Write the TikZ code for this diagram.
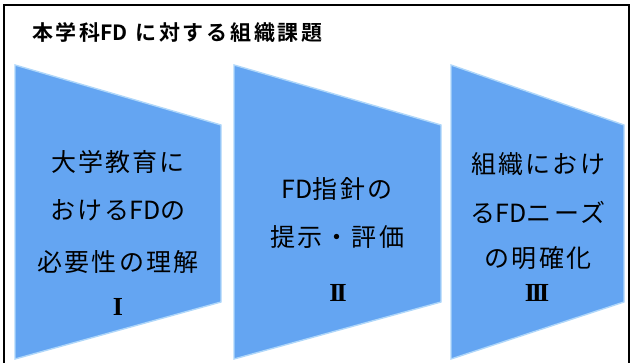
\documentclass[tikz,border=0pt]{standalone}
\usepackage{fontspec}
\newfontfamily\jp{Noto Sans CJK JP}[BoldFont={Noto Sans CJK JP Bold}]
\newfontfamily\rom{Liberation Serif}
\newcommand{\tightFD}{{\addfontfeature{LetterSpace=0}FD}}
\definecolor{boxfill}{RGB}{100,165,242}
\definecolor{boxedge}{RGB}{175,215,250}
\tikzset{
  chev/.style={fill=boxfill, draw=boxedge, line width=1.4pt, line join=miter},
  txt/.style={inner sep=0pt, font=\jp\fontsize{25}{25}\selectfont\addfontfeature{LetterSpace=9}, text=black},
  num/.style={inner sep=0pt, font=\rom\bfseries\fontsize{26}{26}\selectfont, text=black},
  ttl/.style={inner sep=0pt, anchor=west, font=\jp\bfseries\fontsize{21}{21}\selectfont\addfontfeature{LetterSpace=13}}
}
\begin{document}
\begin{tikzpicture}[x=1pt,y=-1pt]
\useasboundingbox (0,0) rectangle (633,363);
\begin{scope}
\clip (0,0) rectangle (633,363);
\draw[line width=2pt] (4,5) rectangle (629,380);
\end{scope}
\node[ttl] (title) at (32,33) {本学科\tightFD\ に対する組織課題};
% shapes
\draw[chev] (15,65) -- (221,125) -- (221,302) -- (15,359) -- cycle;
\draw[chev] (234,65) -- (441,125) -- (441,302) -- (234,359) -- cycle;
\draw[chev] (451,65) -- (624,125) -- (624,302) -- (451,359) -- cycle;
% texts
\node[txt] (a1) at (118,162) {大学教育に};
\node[txt] (a2) at (118,210) {おける\tightFD の};
\node[txt] (a3) at (118,262) {必要性の理解};
\node[num] (a4) at (118,307) {I};
\node[txt] (b1) at (337,189) {\tightFD 指針の};
\node[txt] (b2) at (337,237) {提示・評価};
\node[num] (b3) at (338,293) {I\kern-3ptI};
\node[txt] (c1) at (538,164) {組織におけ};
\node[txt] (c2) at (538,212) {る\tightFD ニーズ};
\node[txt] (c3) at (538,258) {の明確化};
\node[num] (c4) at (537,293) {I\kern-3ptI\kern-3ptI};
\end{tikzpicture}
\end{document}
